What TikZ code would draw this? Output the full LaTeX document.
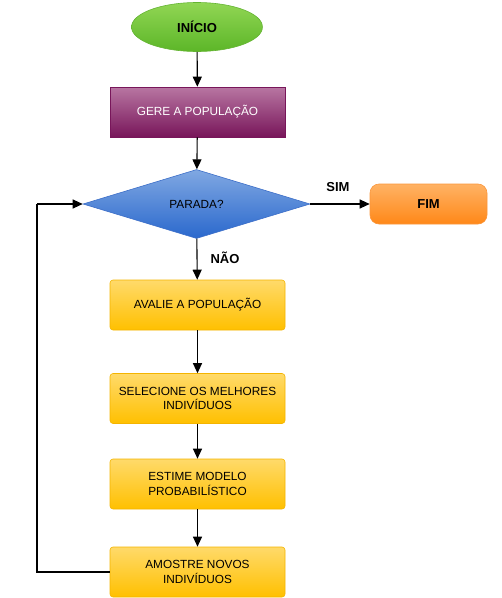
\documentclass[tikz,border=0pt]{standalone}
\usepackage{fontspec}
\setmainfont{Liberation Sans}
\usetikzlibrary{shapes.geometric,arrows.meta}
\begin{document}
\begin{tikzpicture}[x=1pt,y=-1pt,
  conn/.style={line width=1.1pt,-{Triangle[width=9pt,length=10pt]}},
  link/.style={line width=1.1pt},
  ybox/.style={rectangle,rounded corners=3pt,minimum width=175pt,minimum height=50pt,
    line width=0.6pt,align=center,font=\fontsize{11.8}{14.5}\selectfont,text=black},
  lbl/.style={font=\bfseries\fontsize{13}{15}\selectfont}]
\definecolor{ytop}{HTML}{FFDA6A}
\definecolor{ybot}{HTML}{FFC000}
\definecolor{yline}{HTML}{F4B400}
\tikzset{ybox/.append style={top color=ytop,bottom color=ybot,draw=yline}}
\useasboundingbox (0,0) rectangle (502,598);
\node[ellipse,minimum width=131pt,minimum height=49pt,top color={rgb,255:red,145;green,214;blue,84},
  bottom color={rgb,255:red,92;green,182;blue,40},draw={rgb,255:red,100;green,180;blue,50},line width=0.6pt,
  lbl] (ini) at (197,27) {INÍCIO};
\node[rectangle,minimum width=175pt,minimum height=50pt,top color={rgb,255:red,184;green,118;blue,162},
  bottom color={rgb,255:red,120;green,22;blue,90},draw={rgb,255:red,120;green,22;blue,90},line width=0.6pt,
  text=white,font=\fontsize{11.8}{14.5}\selectfont] (gere) at (197.5,112) {GERE A POPULAÇÃO};
\node[diamond,minimum width=227pt,minimum height=69pt,aspect=3.3,inner sep=0pt,
  top color={rgb,255:red,128;green,168;blue,226},bottom color={rgb,255:red,42;green,104;blue,205},
  draw={rgb,255:red,60;green,110;blue,200},line width=0.6pt,font=\fontsize{11.8}{14.5}\selectfont] (par) at (196.5,204) {PARADA?};
\node[rectangle,rounded corners=9pt,minimum width=117pt,minimum height=40pt,
  top color={rgb,255:red,255;green,178;blue,100},bottom color={rgb,255:red,255;green,136;blue,24},
  draw={rgb,255:red,250;green,150;blue,60},line width=0.6pt,lbl] (fim) at (428.5,204) {FIM};
\node[ybox] (aval) at (197.5,305) {AVALIE A POPULAÇÃO};
\node[ybox] (sel) at (197.5,398.5) {SELECIONE OS MELHORES\\INDIVÍDUOS};
\node[ybox] (est) at (197.5,484) {ESTIME MODELO\\PROBABILÍSTICO};
\node[ybox] (amo) at (197.5,572) {AMOSTRE NOVOS\\INDIVÍDUOS};
\coordinate (lb) at (37,572);
\coordinate (lt) at (37,204);
\draw[conn] (ini) -- (gere);
\draw[conn] (gere) -- (par);
\draw[conn] (par) -- (fim);
\draw[conn] (par) -- (aval);
\draw[conn] (aval) -- (sel);
\draw[conn] (sel) -- (est);
\draw[conn] (est) -- (amo);
\draw[link] (amo.west) -- (lb) -- (lt);
\draw[conn] (lt) -- (par.west);
\node[lbl] (sim) at (338,187) {SIM};
\node[lbl] (nao) at (225,258) {NÃO};
\end{tikzpicture}
\end{document}
